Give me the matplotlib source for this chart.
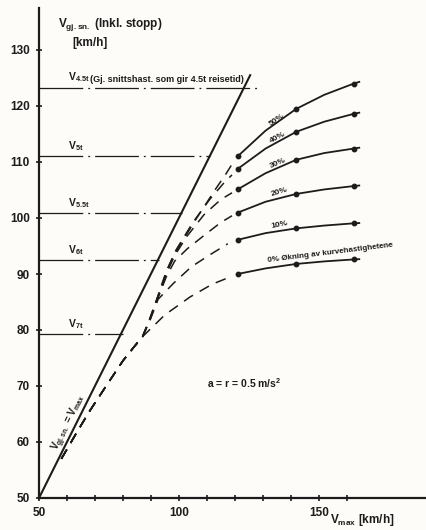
import numpy as np
import matplotlib.pyplot as plt

plt.rcParams['font.family'] = ['Liberation Sans', 'DejaVu Sans']
plt.rcParams['font.weight'] = 'bold'
plt.rcParams['mathtext.fontset'] = 'custom'
plt.rcParams['mathtext.rm'] = 'Liberation Sans:bold'
plt.rcParams['mathtext.default'] = 'rm'

ink = '#1c1c1c'

# heltrukne kurver, Vmax [km/h] -> Vgj.sn. [km/h]
v_max = [121, 131, 142, 152, 162.5, 164.5]
v_0 = [90.0, 91.0, 91.8, 92.25, 92.6, 92.65]
v_10 = [96.1, 97.3, 98.15, 98.65, 99.05, 99.1]
v_20 = [100.95, 102.9, 104.3, 105.1, 105.7, 105.8]
v_30 = [105.1, 108.0, 110.4, 111.6, 112.4, 112.55]
v_40 = [108.75, 112.4, 115.4, 117.2, 118.6, 118.8]
v_50 = [111.0, 115.6, 119.5, 122.0, 124.0, 124.3]
okning = ['0%', '10%', '20%', '30%', '40%', '50%']

# stiplet del (lave hastigheter), felles hale
hale_x = [58, 63.6, 68.2, 74, 80, 84, 87]
hale_y = [57.0, 61.8, 65.6, 70.0, 74.5, 77.0, 78.8]
d0_x = [95, 104, 112, 119]
d0_y = [82.7, 85.9, 88.2, 89.6]
d10_x = [89.5, 92.6, 98, 104.5, 111, 117.5]
d10_y = [81.5, 85.5, 88.3, 91.3, 93.4, 95.4]
d20_x = [89.5, 92.6, 95.5, 98.5, 103, 109.3, 115, 119]
d20_y = [81.6, 85.8, 89.5, 92.3, 94.5, 97.0, 99.2, 100.4]
d30_x = [89.5, 92.6, 95.5, 98.5, 103, 109, 115, 119]
d30_y = [81.7, 86.0, 90.0, 93.3, 96.8, 100.6, 103.3, 104.5]
d40_x = [89.5, 92.6, 95.5, 99, 105, 111, 116, 119]
d40_y = [81.8, 86.1, 90.3, 94.3, 99.2, 103.3, 106.2, 107.7]
d50_x = [89.5, 92.6, 95.5, 98, 101.4, 106.4, 112.9, 117, 119]
d50_y = [81.9, 86.2, 90.5, 93.2, 96.0, 100.0, 105.0, 108.0, 109.6]

# reisetid 555 km
reisetid = ['4.5', '5', '5.5', '6', '7']
v_reise = [123.3, 111.0, 100.9, 92.5, 79.3]
linje_slutt = [128, 111, 101, 93, 80]

fig = plt.figure(figsize=(4.27, 5.30), dpi=100, facecolor='#fdfcf8')
ax = fig.add_axes([39 / 427, 32 / 530, 386 / 427, 490 / 530])
ax.set_facecolor('#fdfcf8')
ax.set_xlim(50, 188)
ax.set_ylim(50, 137.5)

for s in ['top', 'right']:
    ax.spines[s].set_visible(False)
for s in ['left', 'bottom']:
    ax.spines[s].set_color(ink)
    ax.spines[s].set_linewidth(1.6)
ax.plot(1, 0, '>', color=ink, ms=8, transform=ax.get_yaxis_transform(), clip_on=False)
ax.plot(0, 1, '^', color=ink, ms=8, transform=ax.get_xaxis_transform(), clip_on=False)

ax.set_xticks(np.arange(50, 170, 10))
ax.set_xticklabels(['50', '', '', '', '', '100', '', '', '', '', '150', ''])
ax.set_yticks(np.arange(50, 140, 10))
ax.tick_params(direction='inout', length=5, width=1.2, colors=ink, labelsize=8.5, pad=4)

# Vgj.sn. = Vmax
ax.plot([50, 125.5], [50, 125.5], color=ink, lw=1.5)
ax.text(61.0, 63.3, r'V$_{gj.sn.}$ = V$_{max}$', rotation=63.4, rotation_mode='anchor',
        ha='center', va='center', fontsize=7, color=ink)

# horisontale linjer for reisetider
for t, v, xe in zip(reisetid, v_reise, linje_slutt):
    ax.hlines(v, 50, xe, colors=ink, lw=0.9, linestyles=(0, (35, 4, 1.5, 4)))
for t, v in zip(reisetid, v_reise):
    ax.text(60.5, v + 0.6, r'V$_{' + t + 't}$', fontsize=7.5, color=ink, va='bottom')
ax.text(68.2, v_reise[0] + 0.7, '(Gj. snittshast. som gir 4.5t reisetid)',
        fontsize=6.5, color=ink, va='bottom')

# stiplede kurver
for dx, dy in [(d0_x, d0_y), (d10_x, d10_y), (d20_x, d20_y),
               (d30_x, d30_y), (d40_x, d40_y), (d50_x, d50_y)]:
    ax.plot(hale_x + dx, hale_y + dy, color=ink, lw=1.1, dashes=(7, 5))

# heltrukne kurver med punkter
rot = [7, 11, 17, 23, 28, 34]
for lab, vy, r in zip(okning, [v_0, v_10, v_20, v_30, v_40, v_50], rot):
    ax.plot(v_max, vy, color=ink, lw=1.3, marker='o', ms=3.2, markevery=[0, 2, 4])
    if lab == '0%':
        ax.text(132, vy[1] + 0.7, '0% Økning av kurvehastighetene', rotation=r,
                fontsize=5.8, color=ink, va='bottom', rotation_mode='anchor')
    else:
        ax.text(133.3, vy[1] + 0.6, lab, rotation=r, fontsize=6, color=ink,
                va='bottom', rotation_mode='anchor')

ax.text(110, 70.5, r'a = r = 0.5 m/s$^2$', fontsize=7.5, color=ink, va='center')

# aksetitler
ax.text(56.8, 134.5, r'V$_{gj.sn.}$ (Inkl. stopp)', fontsize=8.5, color=ink, va='center')
ax.text(62, 131.2, '[km/h]', fontsize=8.5, color=ink, va='center')
ax.text(154, 46.0, r'V$_{max}$ [km/h]', fontsize=8.5, color=ink, va='center', clip_on=False)

fig.savefig('out.png', dpi=100, facecolor=fig.get_facecolor())
